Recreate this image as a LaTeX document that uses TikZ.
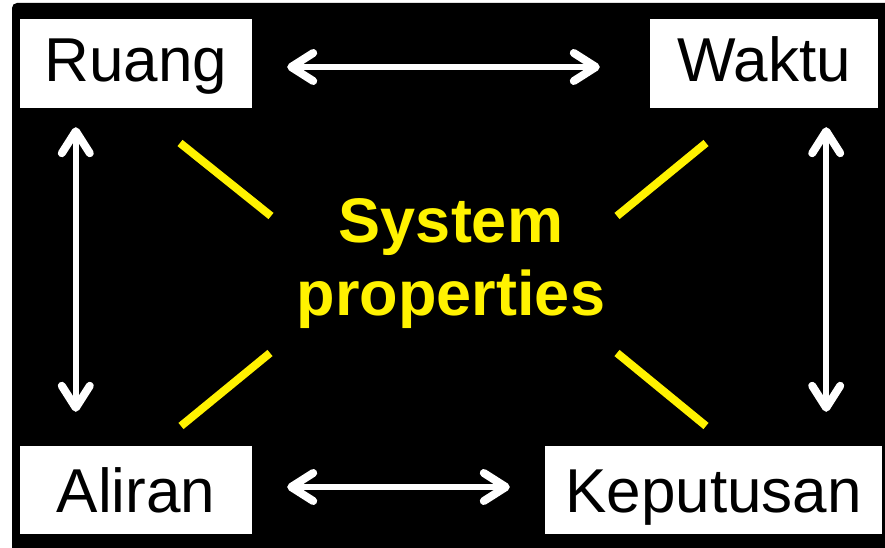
\documentclass[tikz,border=0pt]{standalone}
\usepackage{fontspec}
\setmainfont{Liberation Sans}
\usetikzlibrary{arrows.meta}
\tikzset{
  label box/.style={fill=white, inner sep=0pt, text=black, text depth=0pt,
    font=\fontsize{62}{64}\selectfont},
  bi arrow/.style={draw=white, line width=6pt,
    >={Straight Barb[length=22pt, width=28pt, line width=8pt, round]}, <->},
  ray/.style={draw=yellow, line width=8pt}
}
\begin{document}
\begin{tikzpicture}[x=1pt, y=-1pt]
  \useasboundingbox (0,0) rectangle (885,548);
  \fill[white] (0,0) rectangle (885,548);
  \fill[black, rounded corners=5pt] (12,3) rectangle (895,558);

  \node[label box, text height=37pt, minimum width=232pt, minimum height=89pt] (ruang) at (136,63.5) {Ruang};
  \node[label box, text height=37pt, minimum width=228pt, minimum height=89pt] (waktu) at (764,63.5) {Waktu};
  \node[label box, text height=45pt, minimum width=232pt, minimum height=88pt] (aliran) at (136,490) {Aliran};
  \node[label box, text height=45pt, minimum width=337pt, minimum height=88pt] (keputusan) at (713.5,490) {Keputusan};

  \node[text=yellow, align=center, font=\fontsize{63}{73}\selectfont\bfseries] (sysprop) at (451,264)
    {System\\properties};

  % arrows between the boxes
  \draw[bi arrow, shorten <=35pt, shorten >=50pt] ([yshift=-3.5pt]ruang.east) -- ([yshift=-3.5pt]waktu.west);
  \draw[bi arrow, shorten <=35pt, shorten >=35pt] ([yshift=3pt]aliran.east) -- ([yshift=3pt]keputusan.west);
  \draw[bi arrow, shorten <=19pt, shorten >=34pt] ([xshift=56pt]ruang.south west) -- ([xshift=56pt]aliran.north west);
  \draw[bi arrow, shorten <=19pt, shorten >=34pt] ([xshift=-52pt]waktu.south east) -- ([xshift=-52pt]waktu.south east |- keputusan.north);

  % yellow rays round the centre text
  \draw[ray] (180,143) -- (271,216);
  \draw[ray] (706,143) -- (617,216);
  \draw[ray] (270,353) -- (181,426);
  \draw[ray] (617,353) -- (706,426);
\end{tikzpicture}
\end{document}
